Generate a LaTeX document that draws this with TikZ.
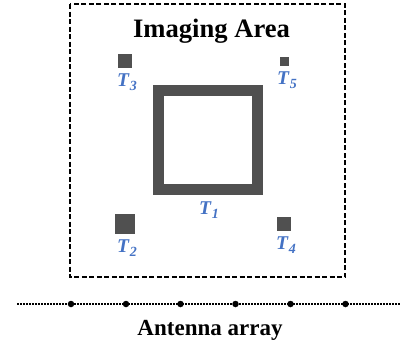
\documentclass[tikz,border=0pt]{standalone}
\usepackage{fontspec}
\setmainfont{Liberation Serif}
\newcommand{\tgt}[1]{T\kern0.8pt\raisebox{-0.4ex}{\fontsize{14}{14}\selectfont #1}}
\begin{document}
\begin{tikzpicture}[x=1pt,y=-1pt,
  target/.style={fill=tgray,draw=none,inner sep=0pt,minimum size=#1},
  tlabel/.style={text=tblue,font=\fontsize{19.5}{19.5}\selectfont\bfseries\itshape,inner sep=0pt},
  element/.style={circle,fill=black,inner sep=0pt,minimum size=6.5pt},
  area/.style={draw=black,line width=1.4pt,dash pattern=on 5pt off 2.5pt},
  heading/.style={font=\fontsize{26.6}{26.6}\selectfont\bfseries,inner sep=0pt}]
\definecolor{tgray}{HTML}{505050}
\definecolor{tblue}{HTML}{4472C4}
\useasboundingbox (0,0) rectangle (400,349);

% imaging area frame and title
\draw[area] (70,4) rectangle (345,277);
\node[heading] (title) at (211.5,31) {Imaging Area};

% hollow square target
\node[target=110pt] (t1box) at (208,140) {};
\node[fill=white,inner sep=0pt,minimum size=88pt] (t1hole) at (208,140) {};

% point targets
\node[target=14pt] (t3box) at (125,61) {};
\node[target=9pt]  (t5box) at (284.5,61) {};
\node[target=20pt] (t2box) at (125,224) {};
\node[target=14pt] (t4box) at (284,224) {};

% target labels
\node[tlabel] (t1) at (209,210) {\tgt{1}};
\node[tlabel] (t2) at (127,248) {\tgt{2}};
\node[tlabel] (t3) at (127,82) {\tgt{3}};
\node[tlabel] (t4) at (286,245) {\tgt{4}};
\node[tlabel] (t5) at (287,80) {\tgt{5}};

% antenna array
\coordinate (arrL) at (17,304);
\coordinate (arrR) at (400,304);
\draw[line width=1.6pt,dash pattern=on 1.5pt off 1.5pt] (arrL) -- (arrR);
\foreach \i/\x in {1/71,2/126,3/180.5,4/235.5,5/290.5,6/345.5}
  \node[element] (a\i) at (\x,304) {};
\node[font=\fontsize{23}{23}\selectfont\bfseries,inner sep=0pt] (arr) at (210,330) {Antenna array};
\end{tikzpicture}
\end{document}
